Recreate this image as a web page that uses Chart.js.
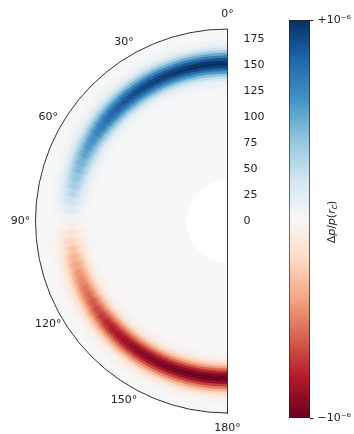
<!DOCTYPE html>
<html>
<head>
<meta charset="utf-8">
<script src="https://cdn.jsdelivr.net/npm/chart.js@4.4.1/dist/chart.umd.min.js"></script>
<style>
  html, body { margin: 0; padding: 0; background: #fff; }
  #wrap { position: relative; width: 354px; height: 434px; }
  #wrap canvas { position: absolute; left: 0; top: 0; }
</style>
</head>
<body>
<div id="wrap">
  <canvas id="field" width="354" height="434"></canvas>
  <canvas id="cbar" width="354" height="434"></canvas>
</div>
<script>
// Radial axis (same units as the tick labels)
const rInner = 40;   // empty core
const rMax = 185;
const radialTicks = [0, 25, 50, 75, 100, 125, 150, 175];

// Angle labels (0 at the top, 180 at the bottom)
const thetaTicks = [0, 30, 60, 90, 120, 150, 180];
const thetaLabels = ['0°', '30°', '60°', '90°', '120°', '150°', '180°'];

// Radial shape of the band, one value per 2.5-unit ring from r = 40 out to r = 185
const radAmp = [
  0, 0, 0, 0, 0, 0, 0, 0, 0, 0,
  0, 0, 0, 0, 0, 0, 0, 0, 0, 0,
  0, 0, 0, 0, 0, 0, 0, 0, 0, 0,
  0, 0, 0, 0, 0.01, 0.02, 0.04, 0.07, 0.14, 0.25,
  0.41, 0.59, 0.77, 0.92, 1.00, 0.98, 0.87, 0.70, 0.51, 0.34,
  0.21, 0.11, 0.06, 0.03, 0.01, 0, 0, 0
];

// Strength across angle, one value per 3° bin from 0° (top) to 180° (bottom)
const angAmp = [
  1.00, 1.00, 1.00, 0.99, 0.99, 0.98, 0.97, 0.96, 0.95, 0.94,
  0.93, 0.91, 0.89, 0.87, 0.84, 0.81, 0.77, 0.72, 0.67, 0.62,
  0.58, 0.54, 0.49, 0.45, 0.40, 0.35, 0.28, 0.21, 0.14, 0.06,
  -0.06, -0.14, -0.21, -0.28, -0.35, -0.40, -0.45, -0.49, -0.54, -0.58,
  -0.62, -0.67, -0.72, -0.77, -0.81, -0.84, -0.87, -0.89, -0.91, -0.93,
  -0.94, -0.95, -0.96, -0.97, -0.98, -0.99, -0.99, -1.00, -1.00, -1.00
];

// Colour bar
const cbarTicks = [-1, 1];
const cbarLabels = ['−10⁻⁶', '+10⁻⁶'];

// RdBu colormap stops, red (-1) to blue (+1)
const rdbuStops = [
  [103, 0, 31], [178, 24, 43], [214, 96, 77], [244, 165, 130], [253, 219, 199],
  [247, 247, 247], [209, 229, 240], [146, 197, 222], [67, 147, 195], [33, 102, 172], [5, 48, 97]
];

function rdbu(v) {
  const t = Math.max(0, Math.min(1, (v + 1) / 2)) * 10;
  const i = Math.min(9, Math.floor(t));
  const f = t - i;
  const a = rdbuStops[i], b = rdbuStops[i + 1];
  const c = a.map((x, k) => Math.round(x + (b[k] - x) * f));
  return `rgb(${c[0]}, ${c[1]}, ${c[2]})`;
}

const font = { family: 'DejaVu Sans', size: 11 };
const textColor = '#222';

// One doughnut dataset per ring (dataset 0 = outermost), one slice per angle bin.
// Slices run clockwise from the bottom (180°) through the left up to the top (0°).
const nTheta = angAmp.length;
const datasets = radAmp.map((_, k) => {
  const ring = radAmp.length - 1 - k;
  const colors = angAmp.map((_, j) => rdbu(radAmp[ring] * angAmp[nTheta - 1 - j]));
  return {
    data: angAmp.map(() => 1),
    backgroundColor: colors,
    borderColor: colors,
    borderWidth: 0.8
  };
});

// Outer spine and angle labels
const polarFrame = {
  id: 'polarFrame',
  afterDatasetsDraw(chart) {
    const arc = chart.getDatasetMeta(0).data[0];
    const cx = arc.x, cy = arc.y, R = arc.outerRadius;
    const ctx = chart.ctx;
    ctx.save();
    ctx.strokeStyle = '#333';
    ctx.lineWidth = 1;
    ctx.beginPath();
    ctx.arc(cx, cy, R, Math.PI / 2, Math.PI * 1.5);
    ctx.stroke();
    ctx.fillStyle = textColor;
    ctx.font = '11px "DejaVu Sans"';
    ctx.textAlign = 'center';
    ctx.textBaseline = 'middle';
    thetaTicks.forEach((t, i) => {
      const a = t * Math.PI / 180;
      const d = R + 15;
      ctx.fillText(thetaLabels[i], cx - d * Math.sin(a), cy - d * Math.cos(a));
    });
    ctx.restore();
  }
};

new Chart(document.getElementById('field'), {
  type: 'doughnut',
  data: { labels: angAmp.map((_, j) => j), datasets },
  options: {
    responsive: false,
    animation: false,
    events: [],
    rotation: 180,
    circumference: 180,
    cutout: (rInner / rMax * 100) + '%',
    radius: 192,
    layout: { padding: { left: 35.5, top: 29, right: 0, bottom: 21 } },
    plugins: { legend: { display: false }, tooltip: { enabled: false } },
    scales: {
      y: {
        type: 'linear',
        position: 'right',
        min: -rMax,
        max: rMax,
        afterBuildTicks: s => { s.ticks = radialTicks.map(v => ({ value: v })); },
        afterFit: s => { s.width = 126.5; },
        grid: { display: false },
        border: { display: true, color: '#333', width: 1, z: 1 },
        ticks: { padding: 8, color: textColor, font, z: 1 }
      }
    }
  },
  plugins: [polarFrame]
});

// Colour bar
function cbarGradient(chart) {
  const area = chart.chartArea;
  if (!area) return null;
  const g = chart.ctx.createLinearGradient(0, area.bottom, 0, area.top);
  rdbuStops.forEach((c, i) => g.addColorStop(i / 10, `rgb(${c[0]}, ${c[1]}, ${c[2]})`));
  return g;
}

const cbarTitle = {
  id: 'cbarTitle',
  afterDraw(chart) {
    const ctx = chart.ctx;
    const area = chart.chartArea;
    const parts = [
      ['Δ', '', 0], ['p', 'italic ', 0], ['/', '', 0], ['p', 'italic ', 0],
      ['(', '', 0], ['r', 'italic ', 0], ['c', 'italic ', 1], [')', '', 0]
    ];
    const fontFor = p => p[1] + (p[2] ? '8px' : '11px') + ' "DejaVu Sans"';
    ctx.save();
    ctx.translate(332, (area.top + area.bottom) / 2 + 3);
    ctx.rotate(-Math.PI / 2);
    ctx.fillStyle = textColor;
    ctx.textBaseline = 'middle';
    ctx.textAlign = 'left';
    let total = 0;
    parts.forEach(p => { ctx.font = fontFor(p); total += ctx.measureText(p[0]).width; });
    let x = -total / 2;
    parts.forEach(p => {
      ctx.font = fontFor(p);
      ctx.fillText(p[0], x, p[2] ? 3 : 0);
      x += ctx.measureText(p[0]).width;
    });
    ctx.restore();
  }
};

new Chart(document.getElementById('cbar'), {
  type: 'bar',
  data: {
    labels: [''],
    datasets: [{
      data: [[cbarTicks[0], cbarTicks[1]]],
      backgroundColor: c => cbarGradient(c.chart),
      borderColor: '#222',
      borderWidth: 1,
      borderSkipped: false,
      barPercentage: 1,
      categoryPercentage: 1
    }]
  },
  options: {
    responsive: false,
    animation: false,
    events: [],
    layout: { padding: { left: 289, top: 20, right: 0, bottom: 16 } },
    plugins: { legend: { display: false }, tooltip: { enabled: false } },
    scales: {
      x: { display: false },
      y: {
        position: 'right',
        min: -1,
        max: 1,
        afterBuildTicks: s => { s.ticks = cbarTicks.map(v => ({ value: v })); },
        afterFit: s => { s.width = 44; },
        grid: { drawOnChartArea: false, drawTicks: true, tickLength: 3.5, color: '#222' },
        border: { display: false },
        ticks: { padding: 4, color: textColor, font, callback: (v, i) => cbarLabels[i] }
      }
    }
  },
  plugins: [cbarTitle]
});
</script>
</body>
</html>
